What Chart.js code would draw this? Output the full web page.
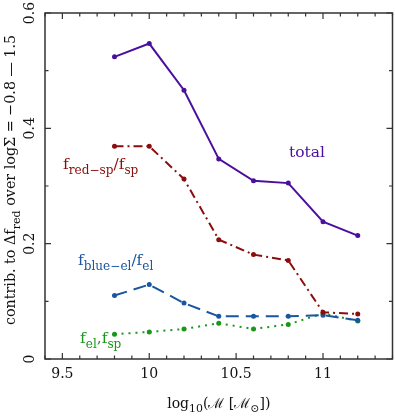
<!DOCTYPE html>
<html>
<head>
<meta charset="utf-8">
<script src="https://cdn.jsdelivr.net/npm/chart.js@4"></script>
<style>
  html, body { margin: 0; padding: 0; background: #fff; }
  #wrap { width: 395px; height: 416px; }
</style>
</head>
<body>
<div id="wrap"><canvas id="chart" width="395" height="416"></canvas></div>
<script>
// stellar mass bins
const massBins = [9.8, 10.0, 10.2, 10.4, 10.6, 10.8, 11.0, 11.2];

// contributions to delta f_red
const totalVals = [0.524, 0.547, 0.466, 0.347, 0.309, 0.305, 0.238, 0.214];
const redSpVals = [0.369, 0.369, 0.312, 0.207, 0.181, 0.171, 0.081, 0.078];
const blueElVals = [0.110, 0.129, 0.097, 0.074, 0.074, 0.074, 0.076, 0.067];
const elSpVals = [0.043, 0.047, 0.052, 0.062, 0.052, 0.060, 0.079, 0.066];

// axis ticks
const xTickLabels = ["9.5", "10", "10.5", "11"];
const yTickLabels = ["0", "0.2", "0.4", "0.6"];

const FONT = "'DejaVu Serif', serif";

function pts(ys) {
    return massBins.map((x, i) => ({ x: x, y: ys[i] }));
}

function series(data, color, dash) {
    return {
        data: pts(data),
        borderColor: color,
        backgroundColor: color,
        borderWidth: 2,
        borderDash: dash,
        pointRadius: 2.5,
        pointHoverRadius: 2.5,
        pointBorderWidth: 0,
        tension: 0
    };
}

// draw text made of normal and subscript pieces, starting at x
function drawRich(ctx, parts, x, y, size, color) {
    ctx.fillStyle = color;
    ctx.textBaseline = "alphabetic";
    ctx.textAlign = "left";
    let cx = x;
    parts.forEach(p => {
        const sub = p[1];
        const fs = sub ? size * 0.78 : size;
        ctx.font = fs + "px " + FONT;
        ctx.fillText(p[0], cx, sub ? y + size * 0.32 : y);
        cx += ctx.measureText(p[0]).width;
    });
    return cx - x;
}

function richWidth(ctx, parts, size) {
    let w = 0;
    parts.forEach(p => {
        ctx.font = (p[1] ? size * 0.78 : size) + "px " + FONT;
        w += ctx.measureText(p[0]).width;
    });
    return w;
}

const framePlugin = {
    id: "frame",
    afterDraw(chart) {
        const ctx = chart.ctx;
        const a = chart.chartArea;
        const xs = chart.scales.x;
        const ys = chart.scales.y;
        ctx.save();
        ctx.strokeStyle = "#333";
        ctx.lineWidth = 1.5;
        ctx.strokeRect(a.left, a.top, a.right - a.left, a.bottom - a.top);

        ctx.lineWidth = 1.2;
        ctx.beginPath();
        for (let i = 0; i <= 20; i++) {
            const v = xs.min + i * 0.1;
            const px = xs.getPixelForValue(v);
            const major = Math.abs(v * 2 - Math.round(v * 2)) < 1e-6;
            const len = major ? 6 : 3.5;
            ctx.moveTo(px, a.bottom); ctx.lineTo(px, a.bottom - len);
            ctx.moveTo(px, a.top); ctx.lineTo(px, a.top + len);
        }
        for (let i = 0; i <= 6; i++) {
            const v = i * 0.1;
            const py = ys.getPixelForValue(v);
            const len = i % 2 === 0 ? 6 : 3.5;
            ctx.moveTo(a.left, py); ctx.lineTo(a.left + len, py);
            ctx.moveTo(a.right, py); ctx.lineTo(a.right - len, py);
        }
        ctx.stroke();

        // tick labels
        ctx.fillStyle = "#111";
        ctx.font = "14px " + FONT;
        ctx.textAlign = "center";
        ctx.textBaseline = "middle";
        xTickLabels.forEach(t => {
            ctx.fillText(t, xs.getPixelForValue(parseFloat(t)), a.bottom + 15);
        });
        yTickLabels.forEach(t => {
            const py = ys.getPixelForValue(parseFloat(t));
            ctx.save();
            ctx.translate(a.left - 15, py);
            ctx.rotate(-Math.PI / 2);
            ctx.fillText(t, 0, 0);
            ctx.restore();
        });

        // x title
        const xt = [["log", false], ["10", true], ["(\u2133 [\u2133", false], ["\u2299", true], ["])", false]];
        const xw = richWidth(ctx, xt, 14);
        drawRich(ctx, xt, (a.left + a.right) / 2 - xw / 2, 408, 14, "#111");

        // y title
        const yt = [["contrib. to \u0394f", false], ["red", true], [" over log\u03a3 = \u22120.8 \u2014 1.5", false]];
        const yw = richWidth(ctx, yt, 14.3);
        ctx.save();
        ctx.translate(15, 180);
        ctx.rotate(-Math.PI / 2);
        drawRich(ctx, yt, -yw / 2, 0, 14.3, "#111");
        ctx.restore();

        // series labels
        drawRich(ctx, [["total", false]], 289, 157, 15.5, "#4b0f9e");
        drawRich(ctx, [["f", false], ["red\u2212sp", true], ["/f", false], ["sp", true]], 63, 169, 15.5, "#8b0d0d");
        drawRich(ctx, [["f", false], ["blue\u2212el", true], ["/f", false], ["el", true]], 78, 265, 15.5, "#1a56a0");
        drawRich(ctx, [["f", false], ["el", true], [",f", false], ["sp", true]], 80, 343, 15.5, "#1a961a");
        ctx.restore();
    }
};

new Chart(document.getElementById("chart").getContext("2d"), {
    type: "line",
    data: {
        datasets: [
            series(totalVals, "#4b0f9e", []),
            series(redSpVals, "#8b0d0d", [9, 4, 2, 4]),
            series(blueElVals, "#1a56a0", [13, 7]),
            series(elSpVals, "#1a961a", [2, 5])
        ]
    },
    options: {
        responsive: false,
        animation: false,
        layout: { padding: { left: 45, right: 1, top: 13, bottom: 57 } },
        plugins: {
            legend: { display: false },
            tooltip: { enabled: false }
        },
        scales: {
            x: { type: "linear", min: 9.4, max: 11.4, display: false },
            y: { type: "linear", min: 0, max: 0.6, display: false }
        }
    },
    plugins: [framePlugin]
});
</script>
</body>
</html>
